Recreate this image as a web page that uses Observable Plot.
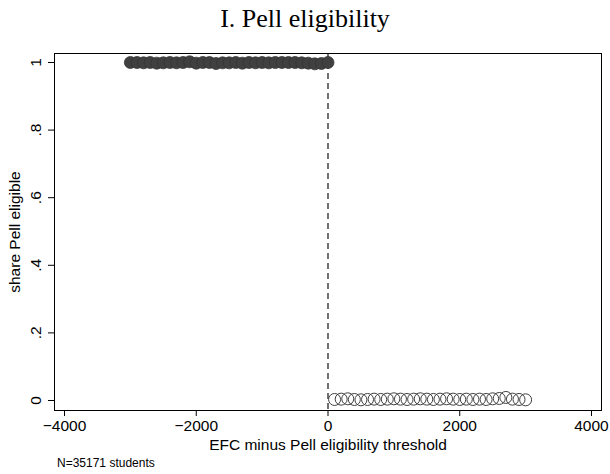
<!DOCTYPE html>
<html>
<head>
<meta charset="utf-8">
<script src="https://cdn.jsdelivr.net/npm/d3@7"></script>
<script src="https://cdn.jsdelivr.net/npm/@observablehq/plot@0.6"></script>
<style>
  body { margin: 0; background: #fff; }
  #wrap { position: relative; width: 610px; height: 474px; background: #fff; overflow: hidden; }
  #wrap svg { position: absolute; left: 0; top: 0; }
  #title { position: absolute; left: 0; top: 6px; width: 610px; text-align: center;
           font-family: "Liberation Serif", serif; font-size: 26px; line-height: 26px; color: #000; }
  #caption { position: absolute; left: 57px; top: 457px; font-family: "Liberation Sans", sans-serif;
             font-size: 12px; line-height: 12px; color: #000; }
</style>
</head>
<body>
<div id="wrap">
  <div id="title">I. Pell eligibility</div>
  <div id="caption">N=35171 students</div>
</div>
<script>
// Left of threshold: bins (EFC minus threshold) and share Pell eligible
const leftX = [-3000, -2900, -2800, -2700, -2600, -2500, -2400, -2300, -2200, -2100, -2000,
               -1900, -1800, -1700, -1600, -1500, -1400, -1300, -1200, -1100, -1000,
               -900, -800, -700, -600, -500, -400, -300, -200, -100, 0];
const leftY = [1, 1, 0.999, 1, 0.998, 0.999, 1, 0.999, 1, 1.002, 0.998,
               1, 1, 0.997, 0.999, 0.999, 1, 0.998, 1, 0.999, 1,
               0.999, 1, 1, 1, 1, 0.999, 0.998, 0.996, 0.997, 1];
// Right of threshold
const rightX = [100, 200, 300, 400, 500, 600, 700, 800, 900, 1000,
                1100, 1200, 1300, 1400, 1500, 1600, 1700, 1800, 1900, 2000,
                2100, 2200, 2300, 2400, 2500, 2600, 2700, 2800, 2900, 3000];
const rightY = [0.003, 0.004, 0.005, 0.003, 0.002, 0.003, 0.004, 0.003, 0.004, 0.005,
                0.004, 0.003, 0.004, 0.005, 0.004, 0.003, 0.004, 0.005, 0.004, 0.003,
                0.004, 0.003, 0.004, 0.003, 0.005, 0.006, 0.009, 0.004, 0.003, 0.002];

const xTicks = [-4000, -2000, 0, 2000, 4000];
const xTickLabels = ["\u22124000", "\u22122000", "0", "2000", "4000"];
const yTicks = [0, 0.2, 0.4, 0.6, 0.8, 1];
const yTickLabels = ["0", ".2", ".4", ".6", ".8", "1"];
const cutoff = [0];

const xLabel = "EFC minus Pell eligibility threshold";
const yLabel = "share Pell eligible";

const left = leftX.map((x, i) => ({x, y: leftY[i]}));
const right = rightX.map((x, i) => ({x, y: rightY[i]}));

const chart = Plot.plot({
  width: 610,
  height: 474,
  marginTop: 53,
  marginBottom: 64,
  marginLeft: 54,
  marginRight: 9,
  style: { fontFamily: "Liberation Sans, Arial, sans-serif", fontSize: "15.5px", color: "#000", background: "transparent" },
  x: { domain: [-4152, 4152] },
  y: { domain: [-0.0296, 1.0266] },
  marks: [
    Plot.frame({ stroke: "#000", strokeWidth: 1 }),
    Plot.ruleX(cutoff, { stroke: "#111", strokeWidth: 1.2, strokeDasharray: "6,4" }),
    Plot.dot(left, { x: "x", y: "y", r: 6, fill: "#404040", stroke: "#333", strokeWidth: 0.8 }),
    Plot.dot(right, { x: "x", y: "y", r: 6, fill: "none", stroke: "#404040", strokeWidth: 1 }),
    Plot.axisX(xTicks, {
      tickSize: 6, tickPadding: 3, fontSize: 15.5,
      tickFormat: d => xTickLabels[xTicks.indexOf(d)],
      label: xLabel, labelAnchor: "center", labelArrow: "none", labelOffset: 39
    }),
    Plot.axisY(yTicks, {
      tickSize: 6, tickPadding: 8, fontSize: 15.5, tickRotate: -90,
      tickFormat: d => yTickLabels[yTicks.indexOf(d)],
      label: yLabel, labelAnchor: "center", labelArrow: "none", labelOffset: 46
    })
  ]
});
document.getElementById("wrap").prepend(chart);
</script>
</body>
</html>
